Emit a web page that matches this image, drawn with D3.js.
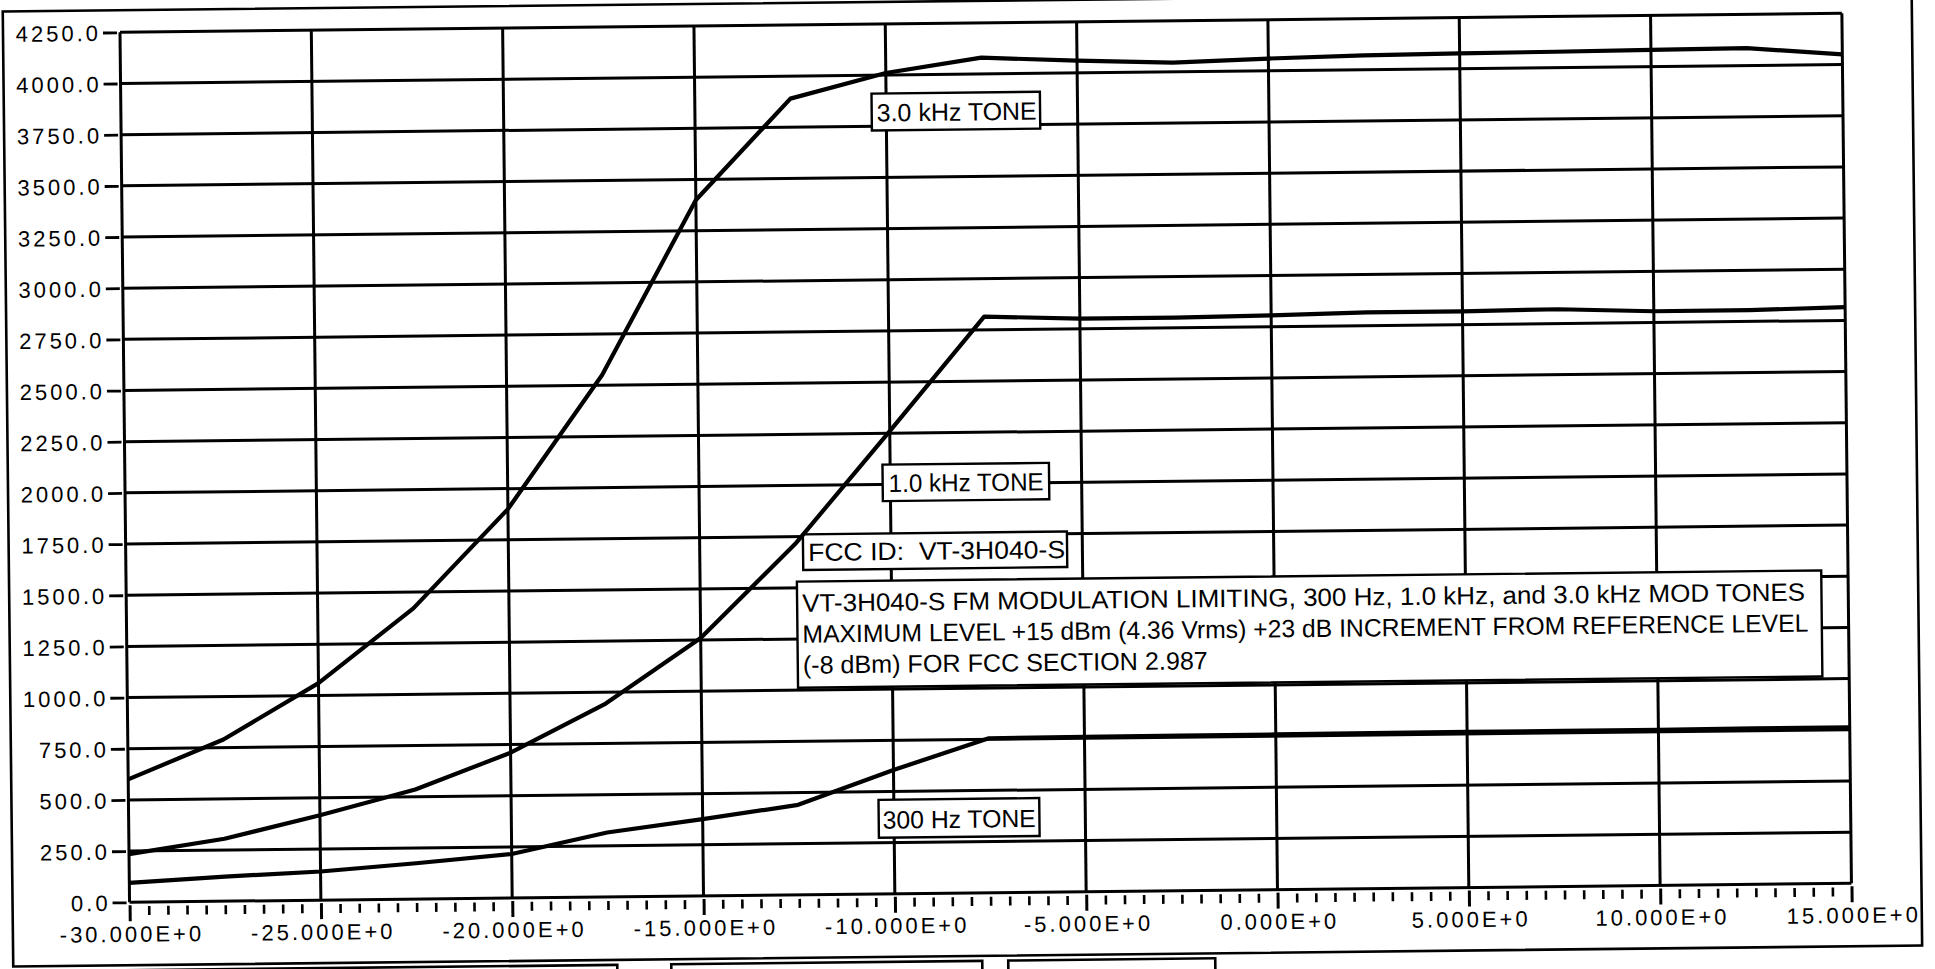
<!DOCTYPE html>
<html>
<head>
<meta charset="utf-8">
<script src="https://cdn.jsdelivr.net/npm/d3@7"></script>
<style>
  html, body { margin: 0; padding: 0; background: #fff; overflow: hidden; }
  svg { display: block; }
  text { font-family: "Liberation Sans", Arial, Helvetica, sans-serif; fill: #000; }
</style>
</head>
<body>
<svg id="chart" width="1935" height="969"></svg>
<script>
const inputLevel = [-30, -27.5, -25, -22.5, -20, -17.5, -15, -12.5, -10, -7.5, -5, -2.5, 0, 2.5, 5, 7.5, 10, 12.5, 15];
const tone3k  = [600, 790, 1060, 1420, 1900, 2550, 3400, 3890, 4010, 4080, 4060, 4045, 4060, 4070, 4075, 4078, 4082, 4085, 4050];
const tone1k  = [235, 305, 415, 535, 710, 945, 1260, 1715, 2260, 2815, 2800, 2800, 2805, 2815, 2815, 2820, 2805, 2805, 2815];
const tone300 = [95, 120, 140, 175, 215, 315, 375, 440, 605, 755, 757, 758, 758, 760, 760, 760, 760, 762, 762];

const xMajorTicks = [-30, -25, -20, -15, -10, -5, 0, 5, 10, 15];
const yTicks = [0, 250, 500, 750, 1000, 1250, 1500, 1750, 2000, 2250, 2500, 2750, 3000, 3250, 3500, 3750, 4000, 4250];

const seriesNames = ['3.0 kHz TONE', '1.0 kHz TONE', '300 Hz TONE'];
const fccId = 'FCC ID:  VT-3H040-S';
const noteLines = [
    'VT-3H040-S FM MODULATION LIMITING, 300 Hz, 1.0 kHz, and 3.0 kHz MOD TONES',
    'MAXIMUM LEVEL +15 dBm (4.36 Vrms) +23 dB INCREMENT FROM REFERENCE LEVEL',
    '(-8 dBm) FOR FCC SECTION 2.987'
];

const svg = d3.select('#chart');

// plot area (before the slight scan tilt is applied)
const plot = { left: 125, right: 1847, top: 23, bottom: 893 };

const x = d3.scaleLinear().domain([-30, 15]).range([plot.left, plot.right]);
const y = d3.scaleLinear().domain([0, 4250]).range([plot.bottom, plot.top]);

// whole sheet is a little rotated in the scan
const g = svg.append('g').attr('transform', 'rotate(-0.63, 968, 484)');

// outer frame of the sheet
g.append('rect')
    .attr('x', 8).attr('y', 1)
    .attr('width', 1909).attr('height', 955)
    .attr('fill', 'none').attr('stroke', '#000').attr('stroke-width', 2.6);

// tops of the boxes below the frame (cut off by the page)
[[8, 612], [666, 977], [1003, 1210]].forEach(([a, b]) => {
    g.append('rect')
        .attr('x', a).attr('y', 961)
        .attr('width', b - a).attr('height', 60)
        .attr('fill', 'none').attr('stroke', '#000').attr('stroke-width', 2.6);
});

// grid
g.append('g')
    .selectAll('line')
    .data(yTicks)
    .join('line')
    .attr('x1', x(-30)).attr('x2', x(15))
    .attr('y1', d => y(d)).attr('y2', d => y(d))
    .attr('stroke', '#000').attr('stroke-width', 3);

g.append('g')
    .selectAll('line')
    .data(xMajorTicks)
    .join('line')
    .attr('x1', d => x(d)).attr('x2', d => x(d))
    .attr('y1', y(0)).attr('y2', y(4250))
    .attr('stroke', '#000').attr('stroke-width', 3);

// y axis
const yAxis = g.append('g')
    .attr('transform', `translate(${x(-30)},0)`)
    .call(d3.axisLeft(y).tickValues(yTicks).tickFormat(d3.format('.1f')).tickSize(17));
yAxis.select('.domain').remove();
yAxis.selectAll('.tick line').attr('x1', -3).attr('stroke', '#000').attr('stroke-width', 2.8);
yAxis.selectAll('.tick text')
    .attr('x', -19)
    .attr('dy', '0.36em')
    .attr('font-size', 22)
    .attr('letter-spacing', 3)
    .attr('font-family', '"Liberation Sans", Arial, sans-serif');

// x axis, minor ticks every 0.5
const minorTicks = d3.range(-30, 15.01, 0.5).filter(d => !xMajorTicks.includes(d));
const xMinor = g.append('g')
    .attr('transform', `translate(0,${y(0)})`)
    .call(d3.axisBottom(x).tickValues(minorTicks).tickFormat('').tickSize(13));
xMinor.select('.domain').remove();
xMinor.selectAll('.tick text').remove();
xMinor.selectAll('.tick line').attr('y1', 4).attr('stroke', '#000').attr('stroke-width', 2.6);

const xAxis = g.append('g')
    .attr('transform', `translate(0,${y(0)})`)
    .call(d3.axisBottom(x).tickValues(xMajorTicks).tickFormat(d => d.toFixed(3) + 'E+0').tickSize(19));
xAxis.select('.domain').remove();
xAxis.selectAll('.tick line').attr('y1', 3).attr('stroke', '#000').attr('stroke-width', 3);
xAxis.selectAll('.tick text')
    .attr('y', 24)
    .attr('dx', 1.5)
    .attr('dy', '0.71em')
    .attr('font-size', 22)
    .attr('letter-spacing', 3)
    .attr('font-family', '"Liberation Sans", Arial, sans-serif');

// annotation boxes, placed in data units
const labelBoxes = [
    { text: seriesNames[0], x0: -10.38, x1: -5.98, top: 3910, bottom: 3730, pad: 5, fit: 160 },
    { text: seriesNames[1], x0: -10.2, x1: -5.85, top: 2097, bottom: 1919, pad: 6, fit: 155 },
    { text: fccId, x0: -12.3, x1: -5.4, top: 1761, bottom: 1587, pad: 5, fit: 257 },
    { text: seriesNames[2], x0: -10.4, x1: -6.2, top: 460, bottom: 275, pad: 4, fit: 153 }
];

labelBoxes.forEach(b => {
    g.append('rect')
        .attr('x', x(b.x0)).attr('y', y(b.top))
        .attr('width', x(b.x1) - x(b.x0)).attr('height', y(b.bottom) - y(b.top))
        .attr('fill', '#fff').attr('stroke', '#000').attr('stroke-width', 2.4);
    g.append('text')
        .attr('x', x(b.x0) + b.pad)
        .attr('y', y(b.bottom) - 9)
        .attr('font-size', 25)
        .attr('textLength', b.fit)
        .attr('lengthAdjust', 'spacingAndGlyphs')
        .style('white-space', 'pre')
        .text(b.text);
});

// description box
const note = { x0: -12.47, x1: 14.3, top: 1530, bottom: 1012 };
g.append('rect')
    .attr('x', x(note.x0)).attr('y', y(note.top))
    .attr('width', x(note.x1) - x(note.x0)).attr('height', y(note.bottom) - y(note.top))
    .attr('fill', '#fff').attr('stroke', '#000').attr('stroke-width', 2.4);

const noteWidths = [1003, 1006, 405];
noteLines.forEach((s, i) => {
    g.append('text')
        .attr('x', x(note.x0) + 5)
        .attr('y', y(note.top) + 30 + i * 31)
        .attr('font-size', 25)
        .attr('textLength', noteWidths[i])
        .attr('lengthAdjust', 'spacingAndGlyphs')
        .text(s);
});

// curves
const line = d3.line()
    .x((d, i) => x(inputLevel[i]))
    .y(d => y(d));

[tone3k, tone1k, tone300].forEach(series => {
    g.append('path')
        .datum(series)
        .attr('d', line)
        .attr('fill', 'none')
        .attr('stroke', '#000')
        .attr('stroke-width', 4.2)
        .attr('stroke-linejoin', 'round');
});
</script>
</body>
</html>
